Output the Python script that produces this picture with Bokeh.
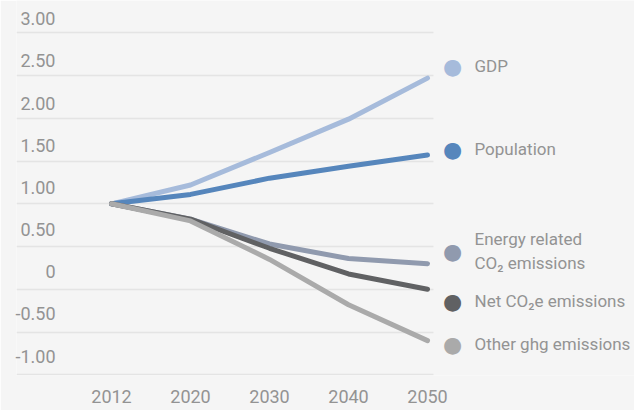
from bokeh.plotting import figure
from bokeh.models import Range1d, LinearAxis, FixedTicker, Label
from bokeh.embed import file_html
from bokeh.resources import INLINE

# ---- data ----
years = ["2012", "2020", "2030", "2040", "2050"]
gdp = [1.00, 1.22, 1.60, 1.99, 2.47]
population = [1.00, 1.11, 1.30, 1.44, 1.57]
energy_co2 = [1.00, 0.82, 0.53, 0.36, 0.30]
net_co2e = [1.00, 0.82, 0.48, 0.18, 0.00]
other_ghg = [1.00, 0.80, 0.35, -0.18, -0.60]
y_ticks = [-1.0, -0.5, 0.0, 0.5, 1.0, 1.5, 2.0, 2.5, 3.0]
y_tick_labels = ["-1.00", "-0.50", "0", "0.50", "1.00", "1.50", "2.00", "2.50", "3.00"]
series_labels = [["GDP"], ["Population"], ["Energy related", "CO\u2082 emissions"],
                 ["Net CO\u2082e emissions"], ["Other ghg emissions"]]

# ---- styles / layout ----
colors = ["#a6bbdb", "#5686bc", "#909aae", "#606163", "#aaaaaa"]
legend_y = [2.61, 1.64, 0.445, -0.14, -0.643]   # legend item positions (data y)
FONT = "Roboto"
TXT = "#939393"
BG = "#f5f5f5"

x_idx = list(range(len(years)))
x_lo, x_hi, x_grid_hi = -1.2025, 6.62, 4.076
y_lo, y_hi = -1.008, 3.378
lab_lo, lab_hi = -1.231, 3.217   # tick-label scale (labels sit above grid lines)

p = figure(width=634, height=410, x_range=Range1d(x_lo, x_hi), y_range=Range1d(y_lo, y_hi),
           output_backend="svg", toolbar_location=None, y_axis_location=None,
           min_border_left=16, min_border_right=0, min_border_top=0, min_border_bottom=35,
           background_fill_color=BG, border_fill_color=BG, outline_line_color=None)

p.extra_y_ranges = {"lab": Range1d(lab_lo, lab_hi)}
yax = LinearAxis(y_range_name="lab", ticker=FixedTicker(ticks=y_ticks),
                 major_label_overrides={t: l for t, l in zip(y_ticks, y_tick_labels)},
                 axis_line_color=None, major_tick_line_color=None, minor_tick_line_color=None,
                 major_tick_out=0, major_label_standoff=-39,
                 major_label_text_font=FONT, major_label_text_font_size="18px",
                 major_label_text_color=TXT)
p.add_layout(yax, "left")

p.xaxis.ticker = FixedTicker(ticks=x_idx)
p.xaxis.major_label_overrides = {i: y for i, y in zip(x_idx, years)}
p.xaxis.axis_line_color = None
p.xaxis.major_tick_line_color = None
p.xaxis.minor_tick_line_color = None
p.xaxis.major_tick_out = 0
p.xaxis.major_label_standoff = 14
p.xaxis.major_label_text_font = FONT
p.xaxis.major_label_text_font_size = "18px"
p.xaxis.major_label_text_color = TXT

p.xgrid.grid_line_color = None
p.ygrid.ticker = FixedTicker(ticks=y_ticks)
p.ygrid.grid_line_color = "#e4e4e4"
p.ygrid.grid_line_width = 1.5
p.ygrid.cross_bounds = (x_lo, x_grid_hi)

for vals, c in zip([gdp, population, energy_co2, net_co2e, other_ghg], colors):
    p.line(x_idx, vals, line_color=c, line_width=5, line_cap="round", line_join="round")

# legend (custom, right side); screen x is measured from the frame's left edge
for lines, c, ly in zip(series_labels, colors, legend_y):
    p.add_layout(Label(x=436, y=ly, x_units="screen", y_units="data", text="\u25cf",
                       text_font="DejaVu Sans", text_font_size="22px", text_color=c,
                       text_align="center", text_baseline="middle"))
    n = len(lines)
    for k, t in enumerate(lines):
        off = (k - (n - 1) / 2) * 24 / 85.5
        p.add_layout(Label(x=458, y=ly - off, x_units="screen", y_units="data", text=t,
                           text_font=FONT, text_font_size="17px", text_color=TXT,
                           text_align="left", text_baseline="middle"))

html = file_html(p, INLINE)
open("out.html", "w").write(html)
